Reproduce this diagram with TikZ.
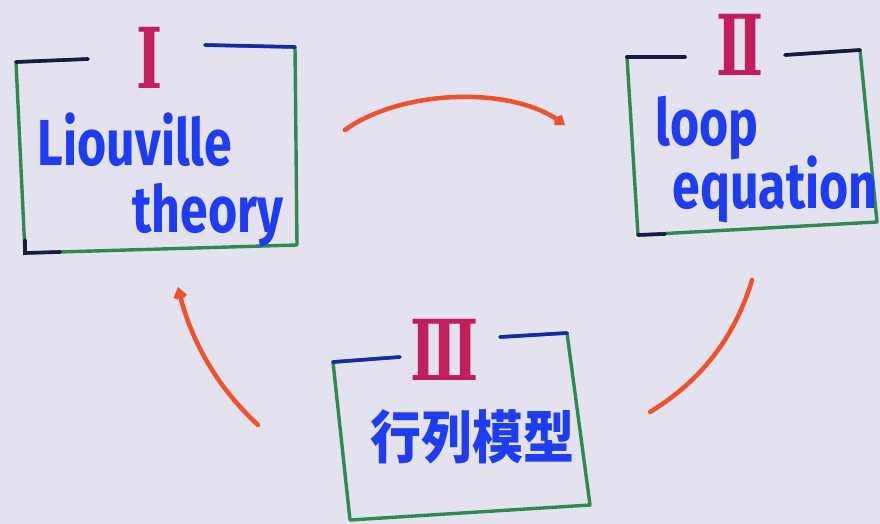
\documentclass[tikz,border=0pt]{standalone}
\usepackage{fontspec}
\setmainfont{Fira Sans}
\newfontfamily\cjkfont{Noto Sans CJK JP}
\newfontfamily\numfont{DejaVu Serif}
\usetikzlibrary{arrows.meta}
\definecolor{bg}{HTML}{E4E2EF}
\definecolor{boxgreen}{HTML}{2E8A55}
\definecolor{ink}{HTML}{1E3CF0}
\definecolor{numred}{HTML}{C21E5C}
\definecolor{arcred}{HTML}{F0502C}
\definecolor{darkink}{HTML}{1A1A40}
\newcommand{\tallA}[1]{\scalebox{1}[1.3]{#1}}
\newcommand{\tallB}[1]{\scalebox{1}[1.12]{#1}}
\newcommand{\tallN}[1]{\scalebox{1}[1.5]{#1}}
\tikzset{
  framebox/.style={draw=boxgreen, line width=3.4pt, line join=round, line cap=round},
  topedge/.style={draw=darkink, line width=3.6pt, line cap=round},
  topedgeblue/.style={draw=ink!70!black, line width=3.6pt, line cap=round},
  numeral/.style={text=numred, font=\numfont\bfseries\fontsize{56}{56}\selectfont, inner sep=0pt},
  label/.style={text=ink, font=\bfseries\fontsize{50}{50}\selectfont, inner sep=0pt, anchor=base},
  cjklabel/.style={text=ink, font=\cjkfont\bfseries\fontsize{51}{51}\selectfont, inner sep=0pt},
  arcline/.style={draw=arcred, line width=4.5pt, line cap=round},
}
\begin{document}
\begin{tikzpicture}[x=1pt,y=-1pt]
\fill[bg] (0,0) rectangle (880,524);
\useasboundingbox (0,0) rectangle (880,524);

% Box I
\coordinate (b1a) at (205,45);
\coordinate (b1b) at (295,47);
\coordinate (b1c) at (297,245);
\coordinate (b1d) at (25,253);
\coordinate (b1e) at (16,62);
\coordinate (b1f) at (88,59);
\draw[framebox] (b1a) -- (b1b) -- (b1c) -- (b1d) -- (b1e) -- (b1f);
\draw[topedge] (b1e) -- (b1f);
\draw[topedgeblue] (b1a) -- (b1b);
\draw[topedge] (25,240) -- (b1d) -- (60,252);

% Box II
\coordinate (b2a) at (785,55);
\coordinate (b2b) at (860,50);
\coordinate (b2c) at (877,222);
\coordinate (b2d) at (638,235);
\coordinate (b2e) at (627,57);
\coordinate (b2f) at (685,57);
\draw[framebox] (b2a) -- (b2b) -- (b2c) -- (b2d) -- (b2e) -- (b2f);
\draw[topedge] (b2e) -- (b2f);
\draw[topedge] (b2a) -- (b2b);
\draw[topedge] (b2d) -- (665,234);

% Box III
\coordinate (b3a) at (500,337);
\coordinate (b3b) at (567,333);
\coordinate (b3c) at (590,505);
\coordinate (b3d) at (350,520);
\coordinate (b3e) at (333,362);
\coordinate (b3f) at (400,357);
\draw[framebox] (b3a) -- (b3b) -- (b3c) -- (b3d) -- (b3e) -- (b3f);
\draw[topedgeblue] (b3e) -- (b3f);
\draw[topedgeblue] (b3a) -- (b3b);

% Numerals
\node[numeral] (n1) at (150,58) {\tallN{Ⅰ}};
\node[numeral] (n2) at (740,45) {\tallN{Ⅱ}};
\node[numeral] (n3) at (445,350) {\tallN{Ⅲ}};

% Labels
\node[label] (liou) at (135,165) {\tallA{Liouville}};
\node[label] (theo) at (208,232) {\tallA{theory}};
\node[label] (loop) at (707,146) {\tallA{loop}};
\node[label] (equa) at (775,208) {\tallA{equation}};
\node[cjklabel] (gyou) at (472,437) {\tallB{行列模型}};

% Arcs
\coordinate (t1) at (345,130);
\coordinate (t2) at (565,125);
\draw[arcline, -{Straight Barb[length=6pt,width=9pt]}] (t1) .. controls (400,90) and (510,85) .. (t2);
\coordinate (r1) at (752,280);
\coordinate (r2) at (650,412);
\draw[arcline] (r1) .. controls (735,337) and (701,381) .. (r2);
\coordinate (l1) at (258,425);
\coordinate (l2) at (178,287);
\draw[arcline, -{Straight Barb[length=7pt,width=10pt]}] (l1) .. controls (217,387) and (191,341) .. (l2);
\end{tikzpicture}
\end{document}
